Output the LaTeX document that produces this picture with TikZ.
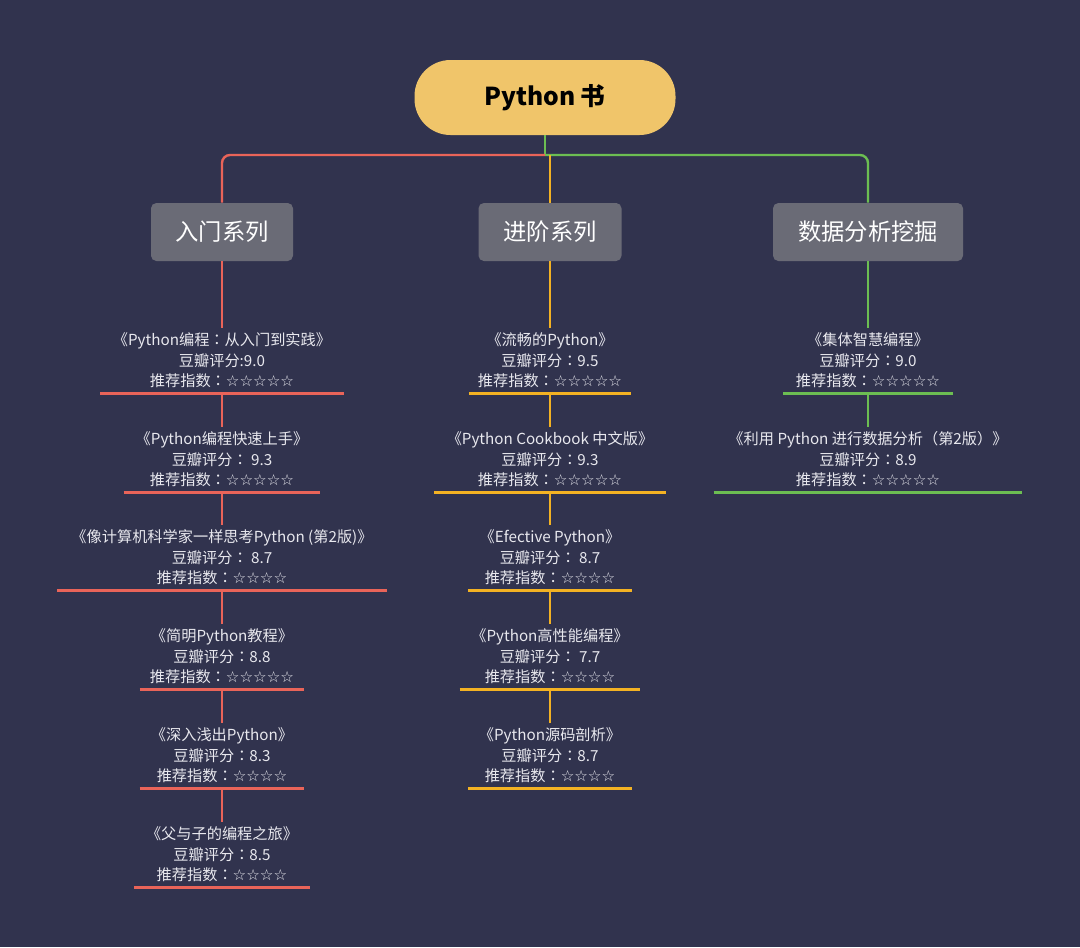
\documentclass[tikz,border=0pt]{standalone}
\usepackage{fontspec}
\setmainfont{Noto Sans CJK SC}
\newfontfamily\starfont{DejaVu Sans}
\newfontfamily\tcfont{Noto Sans CJK TC}
\newcommand\st[1]{{\starfont #1}}
\newcommand\cl{{\tcfont ：}}
\definecolor{bg}{RGB}{49,51,78}
\definecolor{rootc}{RGB}{240,197,106}
\definecolor{boxc}{RGB}{106,107,118}
\definecolor{cred}{RGB}{233,100,89}
\definecolor{corange}{RGB}{243,178,35}
\definecolor{cgreen}{RGB}{108,190,82}
\definecolor{txt}{RGB}{232,232,238}
\begin{document}
\begin{tikzpicture}[x=0.75pt,y=-0.75pt,
  rootnode/.style={fill=rootc, rounded corners=27pt, minimum width=195.75pt, minimum height=56.25pt,
    font=\fontsize{18.5pt}{21pt}\selectfont\bfseries, text=black},
  catbox/.style={fill=boxc, rounded corners=4pt, minimum height=43.5pt, inner sep=0pt,
    font=\fontsize{17.5pt}{20pt}\selectfont, text=white},
  book/.style={text=txt, align=center, inner sep=0pt, minimum height=48.75pt,
    font=\fontsize{11.4pt}{15.4pt}\selectfont},
  w/.style={minimum width=#1*0.75pt},
  conn/.style={line width=1.8pt},
  ul/.style={line width=2pt}]
\fill[bg] (0,0) rectangle (1080,947);
\useasboundingbox (0,0) rectangle (1080,947);

\node[rootnode] (root) at (545,97.5) {Python 书};
\node[catbox, minimum width=106.5pt] (b1) at (222,232) {入门系列};
\node[catbox, minimum width=107.25pt] (b2) at (550,232) {进阶系列};
\node[catbox, minimum width=142.5pt] (b3) at (868,232) {数据分析挖掘};
\coordinate (hub) at (545,155);

\draw[conn, cgreen] (root.south) -- (hub);
\draw[conn, cred, rounded corners=6pt] (hub) -| (b1.north);
\draw[conn, cgreen, rounded corners=6pt] (hub) -| (b3.north);
\draw[conn, corange] (b2.north |- hub) -- (b2.north);

% left column
\node[book, w=243] (L1) at (222,360.5) {《Python编程\cl 从入门到实践》\\豆瓣评分:9.0\\推荐指数\cl\st{☆☆☆☆☆}};
\node[book, w=196] (L2) at (222,459.5) {《Python编程快速上手》\\豆瓣评分\cl\ 9.3\\推荐指数\cl\st{☆☆☆☆☆}};
\node[book, w=329] (L3) at (222,557.5) {《像计算机科学家一样思考Python (第2版)》\\豆瓣评分\cl\ 8.7\\推荐指数\cl\st{☆☆☆☆}};
\node[book, w=164] (L4) at (222,656.5) {《简明Python教程》\\豆瓣评分\cl 8.8\\推荐指数\cl\st{☆☆☆☆☆}};
\node[book, w=164] (L5) at (222,755.5) {《深入浅出Python》\\豆瓣评分\cl 8.3\\推荐指数\cl\st{☆☆☆☆}};
\node[book, w=175] (L6) at (222,854.5) {《父与子的编程之旅》\\豆瓣评分\cl 8.5\\推荐指数\cl\st{☆☆☆☆}};

% middle column
\node[book, w=161] (M1) at (550,360.5) {《流畅的Python》\\豆瓣评分\cl 9.5\\推荐指数\cl\st{☆☆☆☆☆}};
\node[book, w=231] (M2) at (550,459.5) {《Python Cookbook 中文版》\\豆瓣评分\cl 9.3\\推荐指数\cl\st{☆☆☆☆☆}};
\node[book, w=163] (M3) at (550,557.5) {《Efective Python》\\豆瓣评分\cl\ 8.7\\推荐指数\cl\st{☆☆☆☆}};
\node[book, w=180] (M4) at (550,656.5) {《Python高性能编程》\\豆瓣评分\cl\ 7.7\\推荐指数\cl\st{☆☆☆☆}};
\node[book, w=163] (M5) at (550,755.5) {《Python源码剖析》\\豆瓣评分\cl 8.7\\推荐指数\cl\st{☆☆☆☆}};

% right column
\node[book, w=169] (R1) at (868,360.5) {《集体智慧编程》\\豆瓣评分\cl 9.0\\推荐指数\cl\st{☆☆☆☆☆}};
\node[book, w=308] (R2) at (868,459.5) {《利用 Python 进行数据分析（第2版）》\\豆瓣评分\cl 8.9\\推荐指数\cl\st{☆☆☆☆☆}};

% connectors
\draw[conn, cred] (b1.south) -- (L1.north);
\foreach \a/\b in {L1/L2,L2/L3,L3/L4,L4/L5,L5/L6} \draw[conn, cred] (\a.south) -- (\b.north);
\draw[conn, corange] (b2.south) -- (M1.north);
\foreach \a/\b in {M1/M2,M2/M3,M3/M4,M4/M5} \draw[conn, corange] (\a.south) -- (\b.north);
\draw[conn, cgreen] (b3.south) -- (R1.north);
\draw[conn, cgreen] (R1.south) -- (R2.north);

% underlines
\foreach \n in {L1,L2,L3,L4,L5,L6} \draw[ul, cred] (\n.south west) -- (\n.south east);
\foreach \n in {M1,M2,M3,M4,M5} \draw[ul, corange] (\n.south west) -- (\n.south east);
\foreach \n in {R1,R2} \draw[ul, cgreen] (\n.south west) -- (\n.south east);
\end{tikzpicture}
\end{document}
